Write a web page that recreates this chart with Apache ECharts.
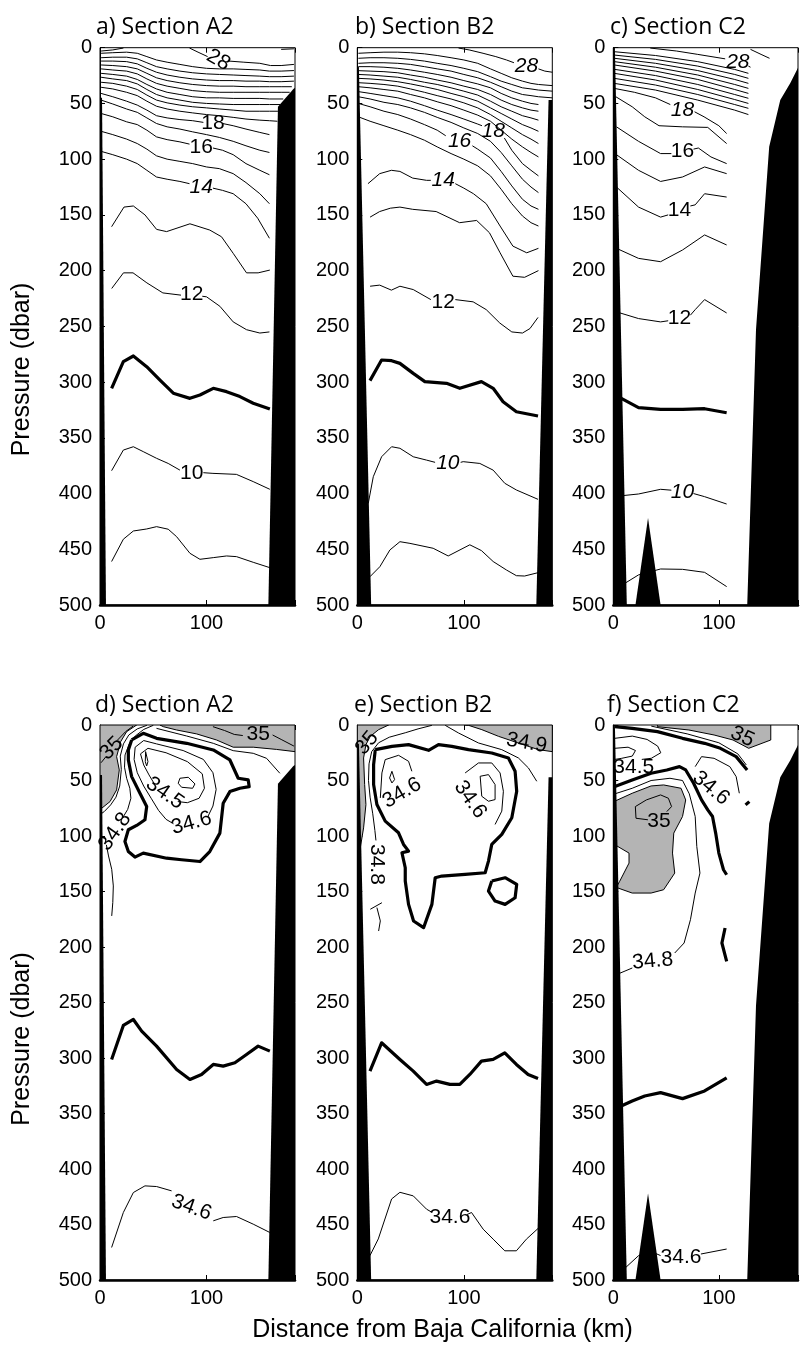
<!DOCTYPE html>
<html>
<head>
<meta charset="utf-8">
<script src="https://cdn.jsdelivr.net/npm/echarts@6/dist/echarts.min.js"></script>
<style>
  html, body { margin: 0; padding: 0; background: #fff; }
  #chart { width: 801px; height: 1345px; }
</style>
</head>
<body>
<div id="chart"></div>
<script>
// ---------- Axis ticks ----------
const distanceTicks = [0, 100];
const pressureTicks = [0, 50, 100, 150, 200, 250, 300, 350, 400, 450, 500];

// ---------- Titles ----------
const panelTitles = ['a) Section A2', 'b) Section B2', 'c) Section C2',
                     'd) Section A2', 'e) Section B2', 'f) Section C2'];

// ---------- Temperature, Section A2 (km, dbar) ----------
const tempA2Thin = [
  [[1,3],[12,2],[22,0.3]],
  [[84,0.3],[92,4],[101,8]],
  [[121,12],[135,13],[150,14],[160,16],[170,16],[182,15]],
  [[170,1.5],[182,1]],
  [[1,5],[12,4.5],[25,4],[35,5],[44,8],[53,11],[63,13],[75,15],[87,17],[100,18.5],[112,19],[125,19],[137,19.5],[150,20],[159,21],[170,21],[182,20.5]],
  [[1,9],[12,8.5],[25,8.5],[35,10],[44,13.5],[53,17],[63,19],[75,21],[87,22.5],[100,23.5],[112,24],[125,24.5],[137,25],[150,25.5],[159,26],[170,26],[182,25.5]],
  [[1,12],[12,12],[25,12.5],[35,14.5],[44,18.5],[53,22],[63,24.5],[75,26.5],[87,28],[100,29],[112,29.5],[125,29.5],[137,30],[150,30],[159,30.5],[170,30.5],[182,30]],
  [[1,15.5],[12,16],[25,17],[35,19],[44,23],[53,27],[63,29.5],[75,31.5],[87,33],[100,34],[112,34.5],[125,34.5],[137,35],[150,35],[159,35],[170,35],[180,35]],
  [[1,19],[12,20],[25,21],[35,23.5],[44,28],[53,32],[63,34.5],[75,36.5],[87,38.5],[100,39.5],[112,40],[125,40],[137,40],[150,40],[159,40],[170,40],[178,40]],
  [[1,23],[12,24],[25,25.5],[35,28.5],[44,33],[53,37],[63,40],[75,42],[87,44],[100,45],[112,45],[125,45.5],[137,45.5],[150,45.5],[159,46],[172,46]],
  [[1,26.5],[12,28],[25,29.5],[35,32.5],[44,37.5],[53,42],[63,45],[75,47],[87,49],[100,50],[112,50.5],[125,51],[137,51],[150,51],[159,51],[169,51]],
  [[1,31],[12,32],[25,34.5],[35,37.5],[44,42.5],[53,47],[63,49.5],[75,51.5],[87,53],[100,54],[112,55],[125,56],[137,57],[150,57],[159,57],[167,57]],
  [[1,35.5],[12,37],[25,40],[35,43],[44,48],[53,52.5],[63,55],[75,57],[87,58.5],[100,60],[112,61],[125,62.5],[137,64],[150,65],[159,65.5],[166.5,66]],
  [[1,41],[12,44],[25,48],[35,51.5],[44,56],[53,61],[63,63],[75,64.5],[87,65.5],[97,67]],
  [[115,68],[125,70],[137,73],[150,76],[159,78]],
  [[1,47],[12,50.5],[25,55],[35,58],[44,63],[53,68],[63,71],[75,73],[87,75.5],[100,78],[112,80.5],[125,84],[137,88],[150,92],[159,94]],
  [[1,59],[12,62],[25,66.5],[35,69],[44,74],[53,80],[63,82.5],[75,84.5],[84,86.5]],
  [[106,90],[115,92],[125,96],[137,104],[150,110],[159,114]],
  [[1,75],[12,78],[25,82],[35,86],[44,91],[53,97],[63,100],[75,102],[87,104],[100,107],[112,108.5],[125,113],[137,121],[150,131],[159,140]],
  [[1,93],[12,96],[25,100],[35,104],[44,110],[53,116],[63,118],[75,120],[84,122]],
  [[106,126],[115,128],[125,131],[137,140],[148,153],[159,171]],
  [[10.9,160.6],[22.5,143],[31.3,142],[42.2,150],[53.1,163],[62.5,165],[84.4,158],[103,163.6],[114,169.6],[125,184.5],[137.5,202],[148.4,202],[159.4,199.5]],
  [[11,216],[22,202],[31,202],[44,211],[59,220],[76,222]],
  [[96,223],[100,223.5],[112.5,232],[125,246],[137.5,253],[150,256],[159,255]],
  [[10.9,379.5],[21.9,361],[31.3,358],[40.6,362.4],[53.1,368.4],[64,373],[75,379]],
  [[97,381.3],[106,381.9],[128,382.8],[143.8,389.3],[159.4,396.2]],
  [[10.9,461],[21.9,441],[31.3,433.6],[43.8,431.8],[53.1,429.7],[64,432],[71.9,438.7],[84.4,453.6],[93.8,459],[106.3,457.5],[118.8,456],[128.1,456.6],[143.8,461.7],[159.4,466.5]]
];
const tempA2Thick = [
  [[10.9,305.6],[21.9,281.7],[31.3,276.6],[43.8,286.2],[56.3,298.2],[68.8,310],[84.4,314.6],[93.8,311.6],[106.3,305.6],[118.8,308.6],[131.3,313],[143.8,319],[159.4,324.2]]
];
const tempA2Labels = [[111,11,'28'],[106,68,'18'],[95,89,'16'],[95,125,'14'],[86,221,'12'],[86,382,'10']];

// ---------- Temperature, Section B2 ----------
const tempB2Thin = [
  [[95,0.3],[105,2],[118,5],[130,8],[140,11],[147,13.5]],
  [[170,19],[176,21],[183,22]],
  [[1,5],[12,4.5],[25,4],[38,4],[50,4.5],[63,5.5],[75,7],[88,9],[100,11],[113,14],[125,19],[135,23],[145,27],[155,30],[163,32],[170,33],[183,34]],
  [[1,9.5],[12,9],[25,9],[38,9.5],[50,10.5],[63,12],[75,14],[88,16],[100,18.5],[113,21.5],[125,26],[135,30],[145,33],[155,36],[163,37],[170,38],[183,39]],
  [[1,14],[12,13.5],[25,13.5],[38,14],[50,15],[63,17],[75,19],[88,21],[100,24],[113,27],[125,31],[135,35],[145,39],[155,42],[163,43],[170,44],[183,45]],
  [[1,17],[12,17],[25,17.5],[38,18.5],[50,20],[63,22],[75,24],[88,26.5],[100,29.5],[113,32.5],[125,36],[135,41],[145,45],[155,48],[163,50],[170,51]],
  [[1,20.6],[12,21],[25,21.5],[38,22.5],[50,24.5],[63,26.5],[75,29],[88,31.5],[100,34.5],[113,37.5],[125,42],[135,47],[145,51],[155,54],[163,56],[170,57]],
  [[1,24],[12,24.5],[25,25.5],[38,26.5],[50,28.5],[63,31],[75,33],[88,36],[100,39],[113,42.5],[125,48],[135,53],[145,57],[155,61],[163,63],[170,65]],
  [[1,27.5],[12,28],[25,29],[38,30.5],[50,32.5],[63,35],[75,37.5],[88,41],[100,44],[113,48],[125,54],[135,59],[145,64],[155,69],[163,72],[170,75]],
  [[1,31.4],[12,32],[25,33],[38,34.5],[50,37],[63,40],[75,43],[88,46],[100,49.5],[113,54],[125,60],[135,66],[145,72],[155,78],[163,82],[170,86]],
  [[1,35],[12,36],[25,37.5],[38,39],[50,42],[63,45],[75,48.5],[88,52],[100,56],[113,60.5],[125,66],[135,74],[145,82],[155,89],[163,94],[170,98]],
  [[1,39.4],[12,41],[25,43],[38,45],[50,48],[63,52],[75,56],[88,60],[100,64],[113,68.5],[117,70]],
  [[138,81],[145,92],[155,104],[163,110],[170,115]],
  [[1,44],[12,46],[25,49],[38,51],[50,54],[63,58],[75,62.5],[88,67],[100,72],[113,77],[125,84],[135,94],[145,106],[155,118],[163,125],[170,130]],
  [[1,50],[12,53],[25,57],[38,60],[50,64],[63,69],[75,74],[83,79]],
  [[108,88],[113,91],[125,99],[135,111],[145,124],[155,136],[163,142],[170,145]],
  [[1,62],[12,66],[25,70],[38,74],[50,78],[63,83],[75,89],[88,95],[100,100],[113,106],[125,115],[135,127],[145,140],[155,151],[163,157],[170,160]],
  [[10,122],[21,113],[32,110],[40,111],[52,117],[65,119],[69,119]],
  [[92,122],[100,126],[109,131],[121,140],[134,160],[146,178],[159,184],[170,180]],
  [[12,152],[21,147],[31,144],[40,143],[52,145],[74,147],[96,157],[112,155],[124,166],[134,184],[146,205],[157,206],[170,200]],
  [[12,214],[21,213],[32,217.5],[40,214],[52.5,217],[69,226]],
  [[92,226],[108.7,228],[121,235],[133.7,247],[145,255],[155,256],[162,252],[169.6,242]],
  [[10.3,408.8],[15,384.9],[22.8,367],[32.2,358],[40,359.4],[52.5,367],[65,370],[73,372]],
  [[97,372],[99.4,371.4],[115,373],[127.5,379],[138.4,390.8],[149.3,396.8],[169.6,405.2]],
  [[11.9,474.6],[21.2,465.6],[30.6,450.6],[40,443.2],[49.4,444.7],[71.2,449.1],[85.3,456],[105.6,446],[116.5,451.2],[127.5,461],[140,468.6],[149.3,473.7],[157,474],[169.6,471]]
];
const tempB2Thick = [
  [[11.9,298.7],[22.8,280.2],[32.2,280.8],[40,283.2],[52.5,292.2],[63.4,299.6],[83.7,301.1],[96.2,305.6],[116.5,299.6],[127.5,305.6],[136.8,317.6],[149.3,326.6],[169.6,330.4]]
];
const tempB2Labels = [[158.7,17,'28'],[127.5,75,'18'],[96,84,'16'],[80.6,119,'14'],[80.6,228,'12'],[85,373,'10']];

// ---------- Temperature, Section C2 ----------
const tempC2Thin = [
  [[35,0.3],[60,3],[80,6],[106,10]],
  [[128,16.5],[130,17.5]],
  [[130,1.5],[140,6],[148,9.5]],
  [[1,3.6],[40,7],[80,12.5],[115,19.5],[128,23]],
  [[1,6.6],[40,10.5],[80,16.5],[115,24],[128,27.5]],
  [[1,9.5],[40,14],[80,20.5],[115,28.5],[128,32]],
  [[1,12.5],[40,17.5],[80,24.5],[115,33],[128,36.5]],
  [[1,15.5],[40,21],[80,28.5],[115,37.5],[128,41]],
  [[1,19.4],[40,25],[80,33],[115,42],[128,45.4]],
  [[1,23],[40,29],[80,37.5],[115,46.5],[128,50]],
  [[1,27.5],[40,33.5],[80,42],[115,51],[128,54.4]],
  [[1,32],[40,38],[80,47],[115,56],[128,60]],
  [[1,36.5],[20,40],[40,45],[54,51]],
  [[77,57.5],[86,62],[100,70],[107.4,77]],
  [[2.4,44],[17.9,53],[29.8,62],[43.3,70],[65.6,71],[89.5,71.5],[107.4,86]],
  [[3,71],[23.9,84],[44.8,95],[55,95]],
  [[76,91],[80.6,90],[92.5,98],[107.4,104]],
  [[3,96],[23.9,110],[44.8,120],[65.6,116],[86.5,107],[107.4,113]],
  [[3,125],[23.9,143],[44.8,152],[52,150]],
  [[73,142],[77.6,141],[86.5,131],[107.4,134]],
  [[3,180],[23.9,189],[44.8,192],[65.6,181.5],[86.5,168],[107.4,177]],
  [[3,237],[23.9,243],[44.8,246],[52,245]],
  [[73,240],[77.6,235],[86.5,226],[107.4,238]],
  [[7.5,402],[23.9,400.4],[44.8,396.2],[55,397]],
  [[76,400],[86.5,402.8],[107.4,409.4]],
  [[11.9,480],[23.9,473],[44.8,467.7],[65.6,468],[86.5,470.7],[107.4,483.5]]
];
const tempC2Thick = [
  [[4.5,313],[23.9,323],[44.8,324.5],[65.6,324.5],[86.5,323.9],[107.4,327.5]]
];
const tempC2Labels = [[118,12.6,'28'],[65.6,56,'18'],[65.6,93,'16'],[62.7,145.6,'14'],[62.7,243,'12'],[65.6,399,'10']];

// ---------- Salinity, Section A2 ----------
const salA2Gray = [
  [[0,0],[34.4,0],[25,6],[19.4,15],[15.6,28.5],[18.1,40.5],[15.6,58.5],[9.4,69],[1.6,75],[0,75]],
  [[56.3,0],[183,0],[183,24],[165.6,22],[143.8,20],[125,20],[109.4,13.5],[90.6,8],[71.9,4.5],[59.4,1.5]]
];
const salA2Thin = [
  [[1,34],[6,28]],
  [[16,14],[24,6],[31,1]],
  [[106,1.5],[117,5],[126,8.5],[134,9.5]],
  [[162,9],[170,13],[182,19]],
  [[44,0.3],[35,3.5],[27,9],[22,17],[19,28],[20,40],[18.5,55],[15,65],[10,72],[4,78],[1,80]],
  [[50,0.3],[41,4],[33,10],[27.5,17],[23.5,27],[23,38],[25,48],[28,57],[29,66],[26,76],[21,84]],
  [[6,108],[8,118],[11,130],[12.5,145],[12,160],[11,172]],
  [[53,3],[81.3,9.9],[106.3,16.5],[125,23.1],[143.8,25.5],[156.3,30],[168.8,43.5]],
  [[33,20],[41,14],[53,17],[78,23],[97,31],[106,43],[109,58],[106,73],[101,83]],
  [[69,89],[62,85],[55,77],[48,66],[41,55],[35,43],[32,31],[33,20]],
  [[38,26],[45,21],[62,25],[82,33],[96,44],[98,57],[93,66],[82,70],[73,69]],
  [[51,53],[46,45],[41,36],[38,26]],
  [[42.8,24],[44.5,25],[45,33],[43.8,36.9],[42.5,33],[42.8,24]],
  [[75,48],[82.8,47.1],[89.1,53.1],[86.9,57],[76.6,56.1],[73.4,52.5],[75,48]],
  [[10.9,470.7],[21.9,439.2],[31.3,421.2],[42.2,415.2],[53.1,415.8],[67.2,419.7]],
  [[106.3,446.7],[115.6,443.7],[128.1,442.8],[143.8,449.7],[159.4,457.2]]
];
const salA2Thick = [
  [[29.7,13.5],[40.6,7.5],[53.1,12],[81.3,16.5],[106.3,22.5],[121.9,31.5],[129.7,48],[139.1,49.5],[140,55.5],[131.3,57],[121.9,60],[115.6,70.5],[112.5,97.4],[103,114],[93.8,123],[76.6,121.4],[62.5,120],[40.6,115.4],[32.8,119],[26.6,114],[23.4,105],[26.6,94.4],[34.4,90.5],[42.2,85.4],[43.8,73.5],[37.5,61.5],[29.7,46.5],[26.6,31.5],[26.6,22.5],[29.7,13.5]],
  [[10.9,301.3],[21.9,270.7],[31.3,265.3],[39.1,275.8],[53.1,289.3],[71.9,310.3],[84.4,319.3],[95.3,314.8],[106.3,305.8],[115.6,307.3],[126.6,304.3],[137.5,296.8],[148.4,289.3],[159.4,293.8]]
];
const salA2Labels = [[10.9,21,'35'],[148.4,8.1,'35'],[60.9,61.5,'34.5'],[85.9,88.4,'34.6'],[14.1,96,'34.8'],[85.9,434.7,'34.6']];

// ---------- Salinity, Section B2 ----------
const salB2Gray = [
  [[0,0],[29.4,0],[20,4.2],[12.2,10.2],[8.1,17.7],[5.9,29.7],[6.9,53.7],[8.1,71.7],[5.9,92.7],[2.8,110.6],[0,113.6]],
  [[101.2,0],[183,0],[183,24],[170,22.2],[151,16.2],[132.5,10.2],[116.9,4.2],[104.4,0.3]]
];
const salB2Thin = [
  [[70,0.3],[57,3.5],[45,7],[30,11],[20,16],[13.5,24],[11,35],[10.5,50],[12,65],[14.5,80],[16.5,95],[17.5,104]],
  [[12.2,166],[23.1,160.1]],
  [[18.4,164.5],[21.6,176.5],[20,185.6]],
  [[82.5,0.3],[95,7.2],[113.7,16.2],[135.6,22.2],[151.2,29.7],[160.6,38.7],[168.4,50.7]],
  [[21.6,65.7],[23.1,43.2],[26.2,31.2],[38.7,27.3],[48.1,32.7],[51.2,41.7]],
  [[32.5,41.7],[35,49.2],[32.5,52.2],[30.3,47.7],[32.5,41.7]],
  [[101.2,43.2],[113.7,34.2],[126.2,34.2],[134,43.2],[137.1,59.7],[135.6,77.6],[129.3,89.6]],
  [[115.3,46.2],[123.1,44.7],[129.3,53.7],[129.3,67.2],[123.1,68.7],[116.8,64.2],[115.3,46.2]],
  [[11.9,478],[19.7,463],[32.2,427],[40,421],[52.5,424.2],[65,436.2],[70,439]],
  [[103,441],[107.2,439.2],[118.1,454.2],[127.5,463.2],[138.4,473.7],[149.3,473.7],[158.7,463.2],[169.6,453.6]]
];
const salB2Thick = [
  [[16.9,22.2],[32.5,19.2],[48.1,17.7],[66.9,22.8],[76.2,17.7],[88.7,19.2],[104.3,22.2],[126.2,25.2],[141.8,29.7],[148.1,41.7],[149.6,59.7],[145,83.6],[135.6,98.6],[126.2,107.6],[123.1,122.6],[120,133.1],[101.2,134.6],[79.3,136.1],[73.1,137.6],[70,161.6],[62.2,182.6],[52.8,176.6],[48.1,161.6],[45,140.6],[45,128.6],[41.9,115.1],[48.1,113.6],[43.4,107.6],[38.7,97.1],[26.2,86.6],[18.4,71.7],[15.3,53.7],[15.3,35.7],[16.9,22.2]],
  [[126.2,140.6],[138.7,137.6],[149.6,143.6],[148.1,155.6],[138.7,161.6],[129.3,158.6],[123.1,149.6],[126.2,140.6]],
  [[11.9,311.8],[22.8,286.3],[40,301.3],[52.5,311.8],[65,323.8],[74.4,320.8],[86.9,323.8],[96.2,323.8],[105.6,314.8],[116.5,302.8],[127.5,301.3],[138.4,295.3],[149.3,305.8],[160.3,314.8],[169.6,318.4]]
];
const salB2Labels = [[9.1,16.2,'35'],[159,16.2,'34.9'],[41.9,61.2,'34.6'],[105.9,67.2,'34.6'],[18.4,125.6,'34.8'],[86.9,443.7,'34.6']];

// ---------- Salinity, Section C2 ----------
const salC2Gray = [
  [[41.8,0],[149.2,0],[149.2,13.5],[128.3,21],[113.4,13.5],[95.5,9],[71.6,4.5],[41.8,1.5]],
  [[0.6,69],[17.9,61.5],[35.8,54.9],[47.7,54],[64.2,57],[68.6,67.5],[65.6,82.4],[57.3,97.4],[56.1,115.4],[58.2,133.4],[47.7,148.4],[35.8,151.4],[17.9,151.4],[4.5,146.9],[1.5,148.4],[6,140.9],[14.9,124.4],[14.9,115.4],[1.5,107.9]]
];
const salC2Thin = [
  [[36,1],[70,8],[100,16],[118,26],[126,36]],
  [[1.5,12],[18,10],[32,13],[42,19],[45,25],[36,30],[27,31]],
  [[1.5,21],[14,20],[21,23],[18,28],[8,30],[1.5,31]],
  [[77.6,37.5],[83.6,28.5],[95.5,30],[110.4,37.5],[116.4,46.5],[119.4,61.5]],
  [[1.5,62],[17.9,57],[35.8,50],[53.7,48],[65.6,50],[72,62],[77.6,82.4],[79.1,109.4],[82.1,133.4],[77.6,151.4],[73.1,175.4],[67.1,196.4],[58.2,205.4]],
  [[18,218.9],[3,224.9]],
  [[50.7,78],[55.2,73.5],[52.2,66],[44.8,63],[31.3,67.5],[20.9,73.5],[21.5,84],[32.8,85.4]],
  [[11.9,488.6],[23.9,478.1],[35,474],[44.8,478]],
  [[83,476.6],[107.4,472.1]]
];
const salC2Thick = [
  [[1.5,1.5],[17.9,3],[41.8,6],[65.6,12],[86.5,16.5],[101.5,21],[116.4,28.5],[126.8,40.5]],
  [[1.5,55.5],[17.9,49.5],[35.8,43.5],[50.7,40.5],[62.7,37.5],[68.6,40.5],[76.1,52.5],[83.6,67.5],[89.5,76.4],[94,82.4],[97,97.4],[100,115.4],[104.4,130.4],[107.4,134.9]],
  [[125.3,72],[128.9,69]],
  [[105.9,182.9],[102.9,196.4],[107.4,212.9]],
  [[7.5,343.2],[17.9,338.7],[29.8,334.2],[44.8,331.2],[65.6,336.6],[86.5,329.7],[107.4,317.8]]
];
const salC2Labels = [[122.3,10.5,'35'],[19.4,38,'34.5'],[92.5,57,'34.6'],[43.3,87,'35'],[37.3,212.9,'34.8'],[64.2,479.6,'34.6']];

// ---------- Sea floor / coast (km, dbar) ----------
const floorA2 = [
  [[0,45],[1.9,45],[5.6,500],[0,500]],
  [[183,36],[181.5,37],[167,53],[158,500],[183,500]]
];
const floorB2 = [
  [[0,17],[1.5,17],[13,500],[0,500]],
  [[179.5,47],[183,47],[183,500],[168,500]]
];
const floorC2 = [
  [[0,0],[1.5,0],[12.8,500],[0,500]],
  [[21,500],[32.9,422],[44.8,500]],
  [[175,18],[167.6,32],[158.2,47],[147.7,88.8],[135.2,253],[126.9,500],[175,500]]
];

// ---------- Label appearance ----------
const labelAngles = [
  [-30, 0, 0, 0, 0, 0],
  [0, 0, 0, 0, 0, 0],
  [0, 0, 0, 0, 0, 0],
  [45, 0, -35, 15, 55, -20],
  [50, -10, 30, -55, -90, 0],
  [-25, 0, -40, 0, 5, 0]
];
const labelItalic = [
  [false, false, false, true, false, false],
  [true, true, true, true, false, true],
  [true, true, false, false, false, true],
  [false, false, false, false, false, false],
  [false, false, false, false, false, false],
  [false, false, false, false, false, false]
];

// ---------- Layout ----------
const gridLeft = [100, 357.3, 613.3];
const gridWidth = [195, 195, 195.5];
const axisMax = [183, 183, 175];
const rowTop = [47.7, 725];
const rowHeight = [557.3, 555];

const panels = [
  { thin: tempA2Thin, thick: tempA2Thick, labels: tempA2Labels, gray: [], floor: floorA2 },
  { thin: tempB2Thin, thick: tempB2Thick, labels: tempB2Labels, gray: [], floor: floorB2 },
  { thin: tempC2Thin, thick: tempC2Thick, labels: tempC2Labels, gray: [], floor: floorC2 },
  { thin: salA2Thin, thick: salA2Thick, labels: salA2Labels, gray: salA2Gray, floor: floorA2 },
  { thin: salB2Thin, thick: salB2Thick, labels: salB2Labels, gray: salB2Gray, floor: floorB2 },
  { thin: salC2Thin, thick: salC2Thick, labels: salC2Labels, gray: salC2Gray, floor: floorC2 }
];

const tickFont = '"Liberation Sans", Arial, sans-serif';
const grids = [], xAxes = [], yAxes = [], series = [];

function contour(gi, pts, width) {
  return {
    type: 'line', xAxisIndex: gi, yAxisIndex: gi, data: pts,
    symbol: 'none', showSymbol: false, silent: true, animation: false, clip: true,
    lineStyle: { color: '#000', width: width, join: 'round' }, z: 3
  };
}

function polygonSeries(gi, polys, fill, stroke, z) {
  return {
    type: 'custom', xAxisIndex: gi, yAxisIndex: gi, silent: true, animation: false, clip: true, z: z,
    data: polys.map(poly => [poly[0][0], poly[0][1]]),
    encode: { x: 0, y: 1 },
    renderItem: (params, api) => {
      const poly = polys[params.dataIndex];
      return {
        type: 'polygon',
        shape: { points: poly.map(pt => api.coord(pt)) },
        style: { fill: fill, stroke: stroke || 'none', lineWidth: stroke ? 1 : 0 }
      };
    }
  };
}

function labelSeries(gi, labels, angles, italic) {
  return {
    type: 'custom', xAxisIndex: gi, yAxisIndex: gi, silent: true, animation: false, z: 8,
    data: labels.map(l => [l[0], l[1]]),
    encode: { x: 0, y: 1 },
    renderItem: (params, api) => {
      const k = params.dataIndex;
      const pt = api.coord([api.value(0), api.value(1)]);
      return {
        type: 'text', x: pt[0], y: pt[1],
        rotation: angles[k] * Math.PI / 180,
        style: {
          text: labels[k][2], fill: '#000',
          font: (italic[k] ? 'italic ' : '') + '21px ' + tickFont,
          textAlign: 'center', textVerticalAlign: 'middle',
          align: 'center', verticalAlign: 'middle'
        }
      };
    }
  };
}

panels.forEach((p, i) => {
  const col = i % 3, row = Math.floor(i / 3);
  grids.push({
    left: gridLeft[col], top: rowTop[row], width: gridWidth[col], height: rowHeight[row],
    show: true, borderColor: '#000', borderWidth: 1, backgroundColor: 'transparent'
  });
  // bottom distance axis
  xAxes.push({
    gridIndex: i, type: 'value', min: 0, max: axisMax[col], interval: 100, position: 'bottom',
    axisLine: { show: true, onZero: false, lineStyle: { color: '#000', width: 2.5 } },
    axisTick: { show: true, inside: true, length: 5, lineStyle: { color: '#000' } },
    axisLabel: {
      color: '#000', fontSize: 20, fontFamily: tickFont, margin: 8,
      formatter: v => (distanceTicks.indexOf(v) >= 0 ? String(v) : '')
    },
    splitLine: { show: false }
  });
  yAxes.push({
    gridIndex: i, type: 'value', inverse: true, min: 0, max: 500, interval: 50,
    axisLine: { show: true, onZero: false, lineStyle: { color: '#000', width: 1 } },
    axisTick: { show: true, inside: true, length: 5, lineStyle: { color: '#000' } },
    axisLabel: {
      color: '#000', fontSize: 20, fontFamily: tickFont, margin: 8,
      formatter: v => (pressureTicks.indexOf(v) >= 0 ? String(v) : '')
    },
    splitLine: { show: false }
  });

  if (p.gray.length) series.push(polygonSeries(i, p.gray, '#b4b4b4', '#000', 1));
  p.thin.forEach(pts => series.push(contour(i, pts, 1)));
  p.thick.forEach(pts => series.push(contour(i, pts, 3.2)));
  series.push(polygonSeries(i, p.floor, '#000', null, 6));
  series.push(labelSeries(i, p.labels, labelAngles[i], labelItalic[i]));
});

// top-edge distance ticks (mirrored box ticks)
panels.forEach((p, i) => {
  const col = i % 3;
  xAxes.push({
    gridIndex: i, type: 'value', min: 0, max: axisMax[col], interval: 100, position: 'top',
    axisLine: { show: false },
    axisTick: { show: true, inside: true, length: 5, lineStyle: { color: '#000' } },
    axisLabel: { show: false },
    splitLine: { show: false }
  });
});

// titles and axis names
const titlePos = [[96, 27], [355, 27], [610, 27], [95, 705], [354, 705], [607, 705]];
const graphics = panelTitles.map((t, i) => ({
  type: 'text', x: titlePos[i][0], y: titlePos[i][1],
  style: {
    text: t, fill: '#000', font: '23px "Open Sans"',
    textAlign: 'left', textVerticalAlign: 'middle', align: 'left', verticalAlign: 'middle'
  }
}));
[369.5, 1039].forEach(cy => graphics.push({
  type: 'text', x: 22, y: cy, rotation: Math.PI / 2,
  style: {
    text: 'Pressure (dbar)', fill: '#000', font: '25px ' + tickFont,
    textAlign: 'center', textVerticalAlign: 'middle', align: 'center', verticalAlign: 'middle'
  }
}));
graphics.push({
  type: 'text', x: 442.5, y: 1330,
  style: {
    text: 'Distance from Baja California (km)', fill: '#000', font: '25px ' + tickFont,
    textAlign: 'center', textVerticalAlign: 'middle', align: 'center', verticalAlign: 'middle'
  }
});

const chart = echarts.init(document.getElementById('chart'), null, { renderer: 'canvas' });
chart.setOption({
  animation: false,
  backgroundColor: '#fff',
  grid: grids,
  xAxis: xAxes,
  yAxis: yAxes,
  series: series,
  graphic: graphics
});
</script>
</body>
</html>
